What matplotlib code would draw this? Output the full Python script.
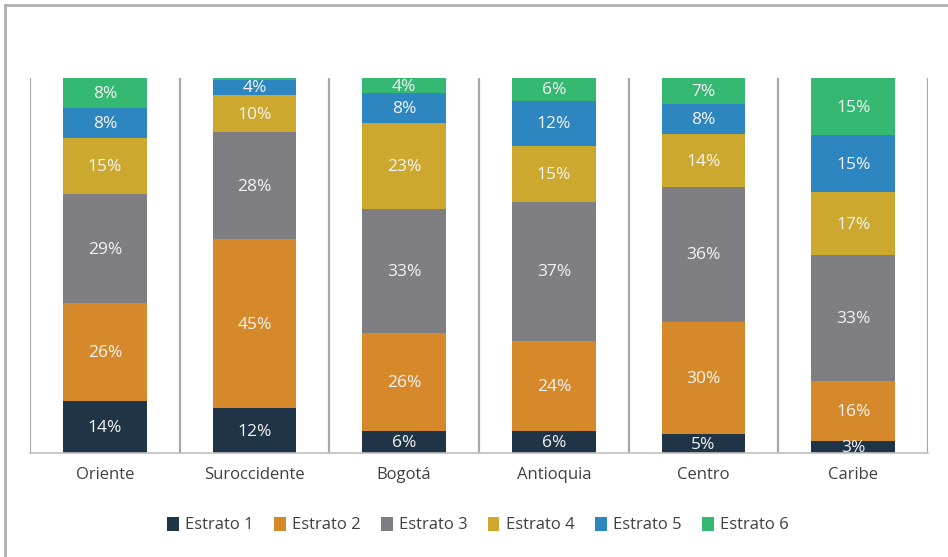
import matplotlib
matplotlib.use("Agg")
import matplotlib.pyplot as plt
from matplotlib.lines import Line2D
from matplotlib.patches import Patch
import numpy as np

plt.rcParams['font.family'] = ['Open Sans', 'DejaVu Sans']

categories = ["Oriente", "Suroccidente", "Bogotá", "Antioquia", "Centro", "Caribe"]
series_names = ["Estrato 1", "Estrato 2", "Estrato 3", "Estrato 4", "Estrato 5", "Estrato 6"]
estrato1 = [14, 12, 6, 6, 5, 3.3]
estrato2 = [26, 45, 26, 24, 30, 16]
estrato3 = [29, 28.5, 33, 37, 36, 33.4]
estrato4 = [15, 10, 23, 15, 14, 17]
estrato5 = [8, 4, 8, 12, 8, 15]
estrato6 = [8, 0.5, 4, 6, 7, 15.3]
series = [estrato1, estrato2, estrato3, estrato4, estrato5, estrato6]
colors = ["#1f3447", "#d5892a", "#7f7f83", "#cca82e", "#2e86c1", "#34b872"]

fig = plt.figure(figsize=(9.48, 5.57), dpi=100)
ax = fig.add_axes([30/948, 1-453/557, (928-30)/948, (453-78)/557])

x = np.arange(len(categories))
bottom = np.zeros(len(categories))
for name, vals, col in zip(series_names, series, colors):
    vals = np.array(vals, dtype=float)
    ax.bar(x, vals, bottom=bottom, width=0.56, color=col, label=name)
    for xi, b, v in zip(x, bottom, vals):
        if v >= 1:
            ax.text(xi, b + v/2 - 0.3, f"{round(v):.0f}%", ha="center", va="center",
                    color="#f4f4f4", fontsize=12.5)
    bottom += vals

ax.set_xlim(-0.5, len(categories)-0.5)
ax.set_ylim(0, 100)
for b in np.arange(-0.5, len(categories), 1.0):
    ax.axvline(b, color="#a8a8a8", lw=1.6, zorder=0)
for s in ["top", "right", "left"]:
    ax.spines[s].set_visible(False)
ax.spines["bottom"].set_color("#c0c0c0")
ax.spines["bottom"].set_linewidth(1.2)
ax.set_yticks([])
ax.set_xticks(x)
ax.set_xticklabels(categories, fontsize=12, color="#404040")
ax.tick_params(axis="x", length=0, pad=10)

handles = [Patch(facecolor=c, edgecolor="none") for c in colors]
fig.legend(handles, series_names, loc="center", bbox_to_anchor=(478/948, 1-525/557),
           ncol=6, frameon=False, fontsize=12, handlelength=0.7, handleheight=0.9,
           handletextpad=0.4, columnspacing=1.2, labelcolor="#404040")

fig.add_artist(Line2D([5/948, 5/948], [0, 1-5/557], color="#b0b0b0", lw=2, transform=fig.transFigure))
fig.add_artist(Line2D([5/948, 1], [1-5/557, 1-5/557], color="#b0b0b0", lw=2, transform=fig.transFigure))

fig.savefig("out.png", dpi=100)
